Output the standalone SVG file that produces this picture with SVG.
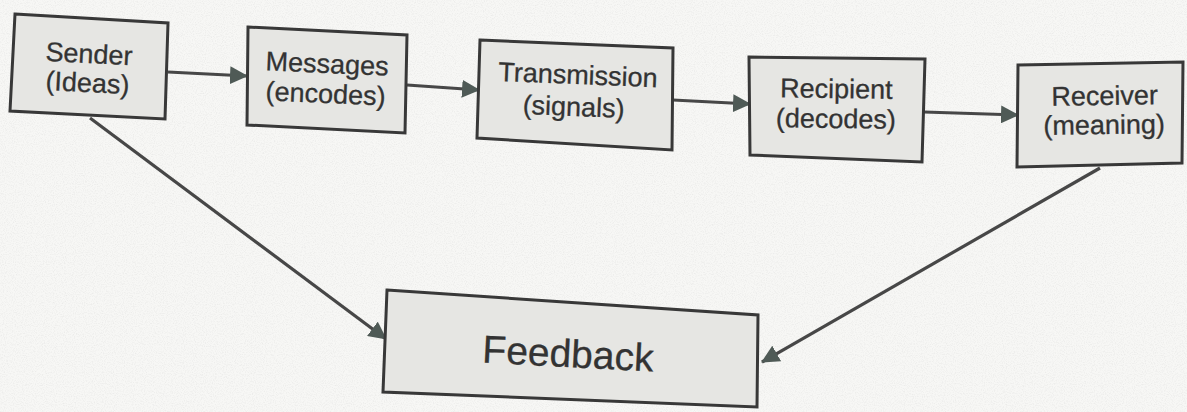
<svg xmlns="http://www.w3.org/2000/svg" width="1187" height="412" viewBox="0 0 1187 412">
<defs>
<marker id="ah" viewBox="0 0 18 18" refX="17" refY="9" markerWidth="18" markerHeight="18" markerUnits="userSpaceOnUse" orient="auto">
<path d="M0,0 L18,9 L0,18 Z" fill="#4f5a56"/>
</marker>
<filter id="grain" x="0" y="0" width="100%" height="100%">
<feTurbulence type="fractalNoise" baseFrequency="0.9" numOctaves="2" seed="3" result="n"/>
<feColorMatrix in="n" type="matrix" values="0 0 0 0 0.5  0 0 0 0 0.5  0 0 0 0 0.5  0 0 0 -2.2 1.25" result="g"/>
<feComposite in="g" in2="SourceGraphic" operator="in"/>
</filter>
<style>
.box{fill:#e6e6e3;stroke:#383838;stroke-width:3;stroke-linejoin:miter}
.t{font-family:"Liberation Sans",Arial,sans-serif;font-size:27px;fill:#333;stroke:#333;stroke-width:0.3;text-anchor:middle}
.big{font-size:39px}
.conn{stroke:#474747;stroke-width:3.2;fill:none;marker-end:url(#ah)}
</style>
</defs>
<rect width="1187" height="412" fill="#f7f7f5"/>
<rect width="1187" height="412" fill="#f7f7f5" filter="url(#grain)" opacity="0.2"/>
<g id="connectors">
<line class="conn" x1="168" y1="72" x2="247" y2="76"/>
<line class="conn" x1="407" y1="85" x2="479" y2="90"/>
<line class="conn" x1="673" y1="100" x2="750" y2="104"/>
<line class="conn" x1="924" y1="112" x2="1018" y2="115"/>
<line class="conn" x1="90" y1="118" x2="386" y2="339"/>
<line class="conn" x1="1100" y1="168" x2="762" y2="362"/>
</g>
<g id="sender">
<polygon class="box" points="15,14 168,23 165,119 10,111"/>
<text class="t" transform="rotate(3 88 75)"><tspan x="88" y="63">Sender</tspan><tspan x="88" y="92">(Ideas)</tspan></text>
</g>
<g id="messages">
<polygon class="box" points="248,27 407,35 405,133 247,125"/>
<text class="t" transform="rotate(2.5 326 88)"><tspan x="326" y="73">Messages</tspan><tspan x="326" y="103">(encodes)</tspan></text>
</g>
<g id="transmission">
<polygon class="box" points="480,40 673,48 672,150 477,138"/>
<text class="t" transform="rotate(2.3 575 100)"><tspan x="577" y="84">Transmission</tspan><tspan x="574" y="116">(signals)</tspan></text>
</g>
<g id="recipient">
<polygon class="box" points="749,57 925,59 922,162 750,155"/>
<text class="t" transform="rotate(0.8 836 113)"><tspan x="836" y="98">Recipient</tspan><tspan x="836" y="128">(decodes)</tspan></text>
</g>
<g id="receiver">
<polygon class="box" points="1018,65 1183,62 1182,163 1017,167"/>
<text class="t" transform="rotate(-0.8 1104 118)"><tspan x="1105" y="105">Receiver</tspan><tspan x="1104" y="134">(meaning)</tspan></text>
</g>
<g id="feedback">
<polygon class="box" points="387,290 758,315 757,407 383,392"/>
<text class="t big" x="568" y="367" transform="rotate(3 568 355)">Feedback</text>
</g>
</svg>
